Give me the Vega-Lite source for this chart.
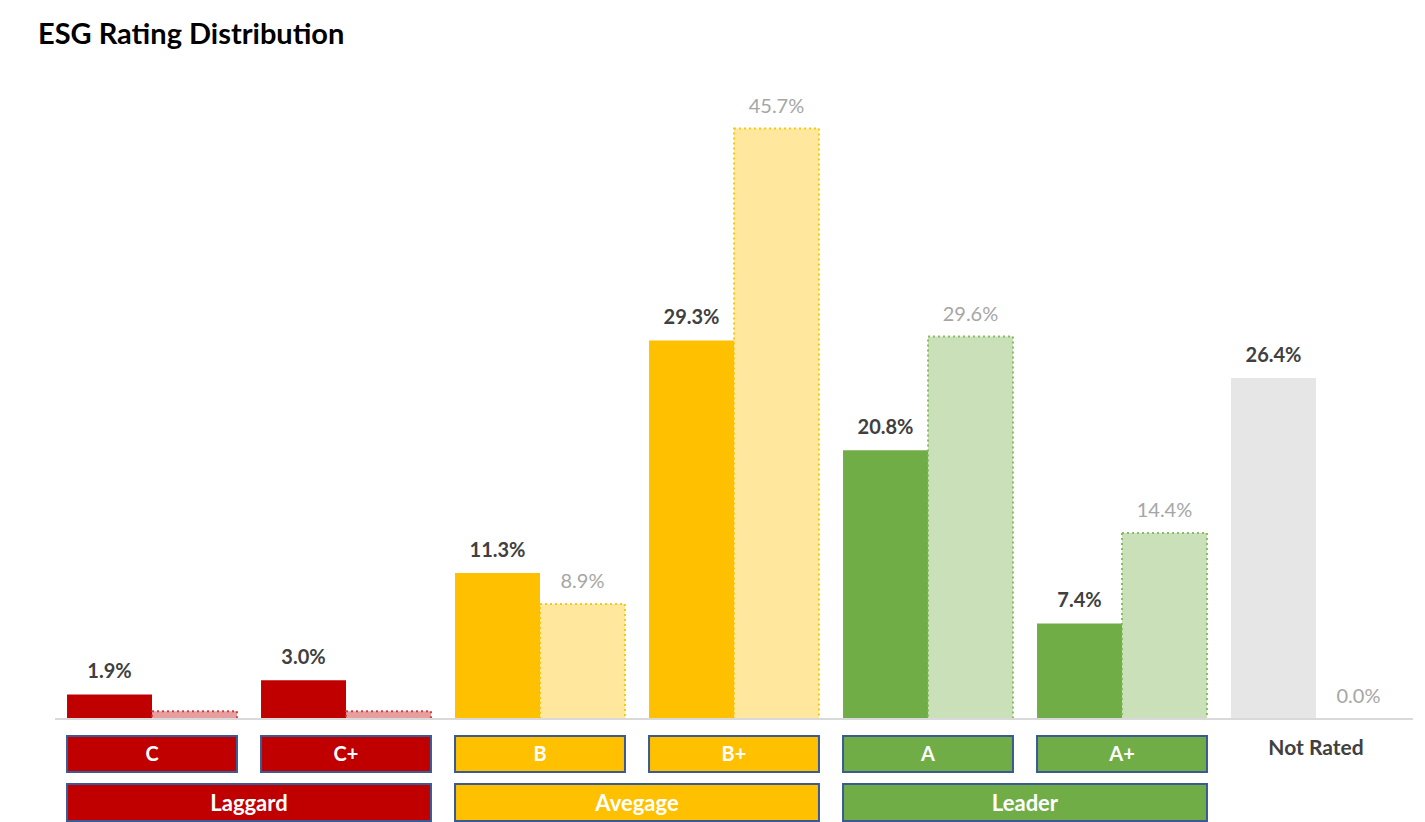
{
  "$schema": "https://vega.github.io/schema/vega-lite/v6.json",
  "background": "white",
  "padding": {"left": 38, "right": 13, "top": 21, "bottom": 0},
  "title": {"text": "ESG Rating Distribution", "anchor": "start", "dx": -16, "font": "Lato", "fontSize": 29, "fontWeight": "bold", "color": "#000000", "offset": 12},
  "config": {"view": {"stroke": null}, "font": "Lato"},
  "datasets": {
    "bars": [
      {"rating": "C", "series": "Company", "value": 1.9, "group": "Laggard"},
      {"rating": "C", "series": "Peers", "value": 0.6, "group": "Laggard"},
      {"rating": "C+", "series": "Company", "value": 3.0, "group": "Laggard"},
      {"rating": "C+", "series": "Peers", "value": 0.6, "group": "Laggard"},
      {"rating": "B", "series": "Company", "value": 11.3, "group": "Avegage"},
      {"rating": "B", "series": "Peers", "value": 8.9, "group": "Avegage"},
      {"rating": "B+", "series": "Company", "value": 29.3, "group": "Avegage"},
      {"rating": "B+", "series": "Peers", "value": 45.7, "group": "Avegage"},
      {"rating": "A", "series": "Company", "value": 20.8, "group": "Leader"},
      {"rating": "A", "series": "Peers", "value": 29.6, "group": "Leader"},
      {"rating": "A+", "series": "Company", "value": 7.4, "group": "Leader"},
      {"rating": "A+", "series": "Peers", "value": 14.4, "group": "Leader"},
      {"rating": "Not Rated", "series": "Company", "value": 26.4, "group": "Not Rated"},
      {"rating": "Not Rated", "series": "Peers", "value": 0.0, "group": "Not Rated"}
    ],
    "tiers": [
      {"rating": "C", "group": "Laggard"},
      {"rating": "C+", "group": "Laggard"},
      {"rating": "B", "group": "Avegage"},
      {"rating": "B+", "group": "Avegage"},
      {"rating": "A", "group": "Leader"},
      {"rating": "A+", "group": "Leader"},
      {"rating": "Not Rated", "group": "Not Rated"}
    ],
    "groups": [
      {"group": "Laggard", "from": "C", "to": "C+"},
      {"group": "Avegage", "from": "B", "to": "B+"},
      {"group": "Leader", "from": "A", "to": "A+"}
    ]
  },
  "vconcat": [
    {
      "width": 1358,
      "height": 657,
      "data": {"name": "bars"},
      "transform": [{"calculate": "format(datum.value, '.1f') + '%'", "as": "label"}],
      "encoding": {
        "x": {"field": "rating", "type": "nominal", "sort": ["C", "C+", "B", "B+", "A", "A+", "Not Rated"], "scale": {"paddingInner": 0.124, "paddingOuter": 0.062}, "axis": null},
        "xOffset": {"field": "series", "type": "nominal", "sort": ["Company", "Peers"], "scale": {"paddingInner": 0, "paddingOuter": 0}},
        "y": {"field": "value", "type": "quantitative", "scale": {"domain": [0, 50.85], "nice": false, "zero": true}, "axis": null}
      },
      "layer": [
        {
          "mark": {"type": "bar", "strokeWidth": 2},
          "encoding": {
            "fill": {"field": "group", "type": "nominal", "scale": {"domain": ["Laggard", "Avegage", "Leader", "Not Rated"], "range": ["#c00000", "#ffc000", "#70ad47", "#e6e6e6"]}, "legend": null},
            "stroke": {"field": "group", "type": "nominal", "scale": {"domain": ["Laggard", "Avegage", "Leader", "Not Rated"], "range": ["#d03030", "#f5c400", "#7fb65a", "#e6e6e6"]}, "legend": null},
            "fillOpacity": {"field": "series", "type": "nominal", "scale": {"domain": ["Company", "Peers"], "range": [1, 0.38]}, "legend": null},
            "strokeOpacity": {"field": "series", "type": "nominal", "scale": {"domain": ["Company", "Peers"], "range": [0, 0.9]}, "legend": null},
            "strokeDash": {"field": "series", "type": "nominal", "scale": {"domain": ["Company", "Peers"], "range": [[1, 0], [2, 3]]}, "legend": null}
          }
        },
        {
          "transform": [{"filter": "datum.series == 'Company'"}],
          "mark": {"type": "text", "baseline": "bottom", "dy": -12, "fontSize": 20, "fontWeight": "bold", "color": "#404040"},
          "encoding": {"text": {"field": "label"}}
        },
        {
          "transform": [{"filter": "datum.series == 'Peers' && (datum.value >= 1 || datum.rating == 'Not Rated')"}],
          "mark": {"type": "text", "baseline": "bottom", "dy": -12, "fontSize": 20, "color": "#a6a6a6"},
          "encoding": {"text": {"field": "label"}}
        },
        {
          "mark": {"type": "rule", "color": "#d9d9d9", "strokeWidth": 2},
          "encoding": {"y": {"datum": 0}, "x": null, "xOffset": null}
        }
      ]
    },
    {
      "vconcat": [
        {
          "width": 1358,
          "height": 36,
          "data": {"name": "tiers"},
          "encoding": {
            "x": {"field": "rating", "type": "nominal", "sort": ["C", "C+", "B", "B+", "A", "A+", "Not Rated"], "scale": {"paddingInner": 0.124, "paddingOuter": 0.062}, "axis": null}
          },
          "layer": [
            {
              "transform": [{"filter": "datum.group != 'Not Rated'"}],
              "mark": {"type": "rect", "stroke": "#3b5a94", "strokeWidth": 2},
              "encoding": {
                "fill": {"field": "group", "type": "nominal", "scale": {"domain": ["Laggard", "Avegage", "Leader"], "range": ["#c00000", "#ffc000", "#70ad47"]}, "legend": null}
              }
            },
            {
              "transform": [{"filter": "datum.group != 'Not Rated'"}],
              "mark": {"type": "text", "fontSize": 20, "fontWeight": "bold", "color": "white", "dy": 1},
              "encoding": {"text": {"field": "rating"}}
            },
            {
              "transform": [{"filter": "datum.group == 'Not Rated'"}],
              "mark": {"type": "text", "fontSize": 21, "fontWeight": "bold", "color": "#404040", "dy": -5},
              "encoding": {"text": {"field": "rating"}}
            }
          ]
        },
        {
          "width": 1358,
          "height": 37,
          "data": {"name": "groups"},
          "layer": [
            {
              "mark": {"type": "rect", "stroke": "#3b5a94", "strokeWidth": 2},
              "encoding": {
                "x": {"field": "from", "type": "nominal", "bandPosition": 0, "scale": {"domain": ["C", "C+", "B", "B+", "A", "A+", "Not Rated"], "paddingInner": 0.124, "paddingOuter": 0.062}, "axis": null},
                "x2": {"field": "to", "bandPosition": 1},
                "fill": {"field": "group", "type": "nominal", "scale": {"domain": ["Laggard", "Avegage", "Leader"], "range": ["#c00000", "#ffc000", "#70ad47"]}, "legend": null}
              }
            },
            {
              "mark": {"type": "text", "fontSize": 22, "fontWeight": "bold", "color": "white", "dx": 12, "dy": 1},
              "encoding": {
                "x": {"field": "from", "type": "nominal", "bandPosition": 1, "scale": {"domain": ["C", "C+", "B", "B+", "A", "A+", "Not Rated"], "paddingInner": 0.124, "paddingOuter": 0.062}, "axis": null},
                "text": {"field": "group"}
              }
            }
          ]
        }
      ],
      "spacing": 10
    }
  ],
  "spacing": 15
}
